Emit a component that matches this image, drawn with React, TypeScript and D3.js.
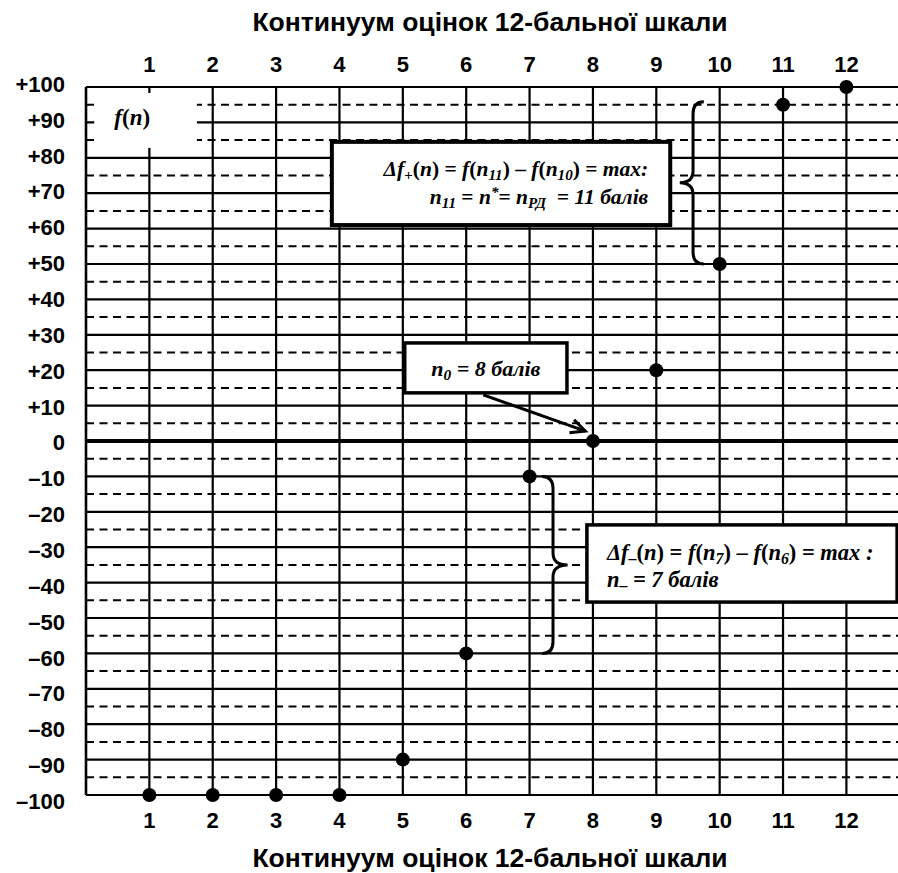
import React from "react";
import * as d3 from "d3";

// оцінки 12-бальної шкали та значення функції f(n)
const scores = [1, 2, 3, 4, 5, 6, 7, 8, 9, 10, 11, 12];
const values = [-100, -100, -100, -100, -90, -60, -10, 0, 20, 50, 95, 100];

const yTicks = [100, 90, 80, 70, 60, 50, 40, 30, 20, 10, 0, -10, -20, -30, -40, -50, -60, -70, -80, -90, -100];
const yTickLabels = [
  "+100", "+90", "+80", "+70", "+60", "+50", "+40", "+30", "+20", "+10", "0",
  "–10", "–20", "–30", "–40", "–50", "–60", "–70", "–80", "–90", "–100",
];
const yMinor = [95, 85, 75, 65, 55, 45, 35, 25, 15, 5, -5, -15, -25, -35, -45, -55, -65, -75, -85, -95];
const axisTitle = "Континуум оцінок 12-бальної шкали";

const W = 898;
const H = 873;
const SANS = "'Liberation Sans', Arial, sans-serif";
const SERIF = "'Liberation Serif', 'Times New Roman', serif";

type Seg = [string, "i" | "r" | "sub" | "sup" | "subr"];

// bold italic formula text with sub/superscripts
const Rich = ({ x, y, anchor, size, segs }: { x: number; y: number; anchor: string; size: number; segs: Seg[] }) => {
  let shift = 0;
  return (
    <text x={x} y={y} textAnchor={anchor} fontFamily={SERIF} fontWeight="bold" fontSize={size} style={{ whiteSpace: "pre" }}>
      {segs.map(([t, k], i) => {
        const small = k === "sub" || k === "sup" || k === "subr";
        const target = k === "sub" || k === "subr" ? size * 0.17 : k === "sup" ? -size * 0.34 : 0;
        const dy = target - shift;
        shift = target;
        return (
          <tspan key={i} dy={dy} fontSize={small ? size * 0.7 : size} fontStyle={k === "r" || k === "subr" ? "normal" : "italic"}>
            {t}
          </tspan>
        );
      })}
    </text>
  );
};

const brace = (xe: number, xs: number, xt: number, y1: number, y2: number, r: number) => {
  const ym = (y1 + y2) / 2;
  const p = d3.path();
  p.moveTo(xe, y1);
  p.quadraticCurveTo(xs, y1, xs, y1 + r);
  p.lineTo(xs, ym - r);
  p.quadraticCurveTo(xs, ym, xt, ym);
  p.quadraticCurveTo(xs, ym, xs, ym + r);
  p.lineTo(xs, y2 - r);
  p.quadraticCurveTo(xs, y2, xe, y2);
  return p.toString();
};

export default function App() {
  const x = d3.scaleLinear().domain([0, 12]).range([86, 846.4]);
  const y = d3.scaleLinear().domain([-100, 100]).range([795, 87]);
  const yLab = d3.scaleLinear().domain([-100, 100]).range([801, 84]);

  const f = (n: number) => values[scores.indexOf(n)];

  // annotation boxes (data coordinates)
  const b1 = { x0: x(3.88), x1: x(9.22), y0: y(84.5), y1: y(61) };
  const b2 = { x0: x(5.03), x1: x(7.59), y0: y(27.7), y1: y(13.6) };
  const b3 = { x0: x(7.905), x1: x(12.8), y0: y(-23.7), y1: y(-45.5) };
  const fb = { x0: x(0.13), x1: x(1.75), y0: y(98.3), y1: y(82.8) };

  const ax0 = x(6.27), ay0 = b2.y1 + 2;
  const ax1 = x(7.88), ay1 = y(2.8);
  const ang = Math.atan2(ay1 - ay0, ax1 - ax0);
  const head = 16;
  const headPath = `M${ax1 - head * Math.cos(ang - 0.45)},${ay1 - head * Math.sin(ang - 0.45)}L${ax1},${ay1}L${ax1 - head * Math.cos(ang + 0.45)},${ay1 - head * Math.sin(ang + 0.45)}`;

  return (
    <div style={{ position: "absolute", left: 0, top: 0 }}>
      <svg width={W} height={H} style={{ display: "block", background: "#fff" }}>
        <text x={490} y={31} textAnchor="middle" fontFamily={SANS} fontWeight="bold" fontSize={26.5}>{axisTitle}</text>
        <text x={490} y={867} textAnchor="middle" fontFamily={SANS} fontWeight="bold" fontSize={26.5}>{axisTitle}</text>

        {/* grid */}
        {yMinor.map((v) => (
          <line key={"m" + v} x1={x(0)} x2={W} y1={y(v)} y2={y(v)} stroke="#000" strokeWidth={2} strokeDasharray="8,5.5" />
        ))}
        {yTicks.map((v) => (
          <line key={"t" + v} x1={x(0)} x2={W} y1={y(v)} y2={y(v)} stroke="#000" strokeWidth={v === 0 ? 3.8 : 2.2} />
        ))}
        {[0, ...scores].map((n) => (
          <line key={"v" + n} x1={x(n)} x2={x(n)} y1={y(100)} y2={y(-100)} stroke="#000" strokeWidth={n === 0 ? 2.6 : 2.2} />
        ))}

        {/* tick labels */}
        {yTicks.map((v, i) => (
          <text key={"yl" + v} x={65} y={yLab(v)} dy="0.36em" textAnchor="end" fontFamily={SANS} fontWeight="bold" fontSize={22}>{yTickLabels[i]}</text>
        ))}
        {scores.map((n) => (
          <text key={"xt" + n} x={x(n)} y={72} textAnchor="middle" fontFamily={SANS} fontWeight="bold" fontSize={22}>{n}</text>
        ))}
        {scores.map((n) => (
          <text key={"xb" + n} x={x(n)} y={828} textAnchor="middle" fontFamily={SANS} fontWeight="bold" fontSize={22}>{n}</text>
        ))}

        {/* f(n) label */}
        <rect x={fb.x0} y={fb.y0} width={fb.x1 - fb.x0} height={fb.y1 - fb.y0} fill="#fff" />
        <Rich x={x(0.73)} y={y(91) + 6} anchor="middle" size={23} segs={[["f", "i"], ["(", "r"], ["n", "i"], [")", "r"]]} />

        {/* box 1 */}
        <rect x={b1.x0} y={b1.y0} width={b1.x1 - b1.x0} height={b1.y1 - b1.y0} fill="#fff" stroke="#000" strokeWidth={4} />
        <Rich x={b1.x1 - 22} y={b1.y0 + 34} anchor="end" size={21.5} segs={[
          ["Δ", "i"], ["f", "i"], ["+", "subr"], ["(", "r"], ["n", "i"], [")", "r"], [" = ", "r"], ["f", "i"], ["(", "r"], ["n", "i"], ["11", "sub"], [")", "r"],
          [" – ", "r"], ["f", "i"], ["(", "r"], ["n", "i"], ["10", "sub"], [")", "r"], [" = ", "r"], ["max:", "i"],
        ]} />
        <Rich x={b1.x1 - 22} y={b1.y0 + 62} anchor="end" size={21.5} segs={[
          ["n", "i"], ["11", "sub"], [" = ", "r"], ["n", "i"], ["*", "sup"], ["= ", "r"], ["n", "i"], ["РД", "sub"], ["  = 11 балів", "i"],
        ]} />

        {/* box 2 */}
        <rect x={b2.x0} y={b2.y0} width={b2.x1 - b2.x0} height={b2.y1 - b2.y0} fill="#fff" stroke="#000" strokeWidth={3.5} />
        <Rich x={(b2.x0 + b2.x1) / 2} y={b2.y0 + 33} anchor="middle" size={22} segs={[["n", "i"], ["0", "sub"], [" = 8 балів", "i"]]} />
        <line x1={ax0} y1={ay0} x2={ax1} y2={ay1} stroke="#000" strokeWidth={3} />
        <path d={headPath} fill="none" stroke="#000" strokeWidth={3} />

        {/* box 3 */}
        <rect x={b3.x0} y={b3.y0} width={b3.x1 - b3.x0} height={b3.y1 - b3.y0} fill="#fff" stroke="#000" strokeWidth={3.5} />
        <Rich x={b3.x0 + 20} y={b3.y0 + 35} anchor="start" size={22.5} segs={[
          ["Δ", "i"], ["f", "i"], ["–", "subr"], ["(", "r"], ["n", "i"], [")", "r"], [" = ", "r"], ["f", "i"], ["(", "r"], ["n", "i"], ["7", "sub"], [")", "r"],
          [" – ", "r"], ["f", "i"], ["(", "r"], ["n", "i"], ["6", "sub"], [")", "r"], [" = ", "r"], ["max :", "i"],
        ]} />
        <Rich x={b3.x0 + 20} y={b3.y0 + 62} anchor="start" size={22.5} segs={[["n", "i"], ["–", "subr"], [" = 7 балів", "i"]]} />

        {/* braces */}
        <path d={brace(x(9.75), x(9.58), x(9.37), y(f(11)) - 3, y(f(10)), 12)} fill="none" stroke="#000" strokeWidth={3} />
        <path d={brace(x(7.2), x(7.37), x(7.6), y(f(7)), y(f(6)), 12)} fill="none" stroke="#000" strokeWidth={3} />

        {/* points */}
        {scores.map((n, i) => (
          <circle key={"p" + n} cx={x(n)} cy={y(values[i])} r={7} fill="#000" />
        ))}
      </svg>
    </div>
  );
}
